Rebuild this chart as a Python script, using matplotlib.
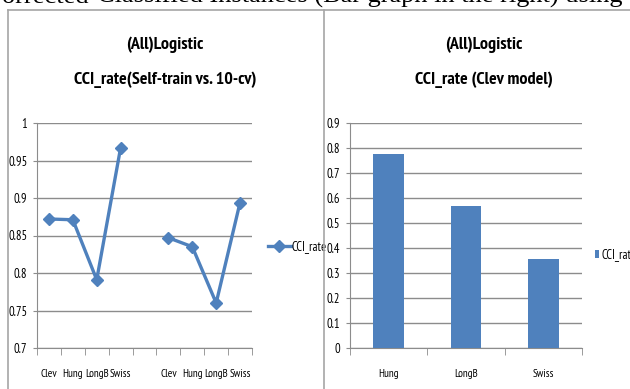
import numpy as np
import matplotlib
matplotlib.use('Agg')
import matplotlib.pyplot as plt
from matplotlib.lines import Line2D

plt.rcParams['font.family'] = ['PT Sans Narrow', 'DejaVu Sans']

# line chart: self-train group, blank slot, 10-cv group
line_labels = ['Clev', 'Hung', 'LongB', 'Swiss', '', 'Clev', 'Hung', 'LongB', 'Swiss']
line_values = [0.872, 0.871, 0.791, 0.967, np.nan, 0.847, 0.835, 0.760, 0.894]

# bar chart: Clev model tested on the other sets
bar_labels = ['Hung', 'LongB', 'Swiss']
bar_values = [0.775, 0.567, 0.357]

series_name = 'CCI_rate'
blue = '#4F81BD'
grid_gray = '#8C8C8C'
frame_gray = '#A6A6A6'


def main():
    fig = plt.figure(figsize=(6.3, 3.89), dpi=100)
    W, H = 630, 389

    def fx(px):
        return px / W

    def fy(py):
        return 1 - py / H

    # caption line cut off at the top of the page (justified text, wide gap)
    fig.text(fx(89), fy(3), 'orrected', family='Liberation Serif', fontsize=19,
             ha='right', va='baseline')
    fig.text(fx(97), fy(3), 'Classified Instances (Bar graph in the right) using',
             family='Liberation Serif', fontsize=19, ha='left', va='baseline')

    # frame around the two charts
    fig.add_artist(Line2D([fx(8), fx(640)], [fy(10), fy(10)], color=frame_gray, lw=1.2))
    fig.add_artist(Line2D([fx(8), fx(8)], [fy(10), fy(395)], color=frame_gray, lw=1.2))
    fig.add_artist(Line2D([fx(324), fx(324)], [fy(10), fy(395)], color=frame_gray, lw=1.2))

    # titles
    for cx, line2 in [(165, 'CCI_rate(Self-train vs. 10-cv)'), (484, 'CCI_rate (Clev model)')]:
        fig.text(fx(cx), fy(45), '(All)Logistic', fontsize=13, fontweight='bold',
                 ha='center', va='center')
        fig.text(fx(cx), fy(80), line2, fontsize=13, fontweight='bold',
                 ha='center', va='center')

    # left: line chart
    ax1 = fig.add_axes([fx(37), fy(348), fx(252 - 37), (348 - 123) / H])
    x1 = np.arange(len(line_labels))
    ax1.plot(x1, line_values, color=blue, lw=2.4, marker='D', markersize=6,
             label=series_name)
    ax1.set_xlim(-0.5, len(line_labels) - 0.5)
    ax1.set_ylim(0.7, 1.0)
    ax1.set_yticks(np.arange(0.7, 1.001, 0.05))
    ax1.set_yticklabels(['0.7', '0.75', '0.8', '0.85', '0.9', '0.95', '1'])
    ax1.set_xticks(x1)
    ax1.set_xticklabels(line_labels)
    ax1.set_xticks(np.arange(-0.5, len(line_labels)), minor=True)
    ax1.legend(loc='center left', bbox_to_anchor=(fx(263), fy(247)),
               bbox_transform=fig.transFigure, frameon=False, fontsize=9,
               handlelength=1.8, handletextpad=0.1, borderaxespad=0)

    # right: bar chart
    ax2 = fig.add_axes([fx(350), fy(348), fx(582 - 350), (348 - 123) / H])
    x2 = np.arange(len(bar_labels))
    ax2.bar(x2, bar_values, width=0.4, color=blue, label=series_name, zorder=3)
    ax2.set_xlim(-0.5, len(bar_labels) - 0.5)
    ax2.set_ylim(0, 0.9)
    ax2.set_yticks(np.arange(0, 0.901, 0.1))
    ax2.set_yticklabels(['0', '0.1', '0.2', '0.3', '0.4', '0.5', '0.6', '0.7', '0.8', '0.9'])
    ax2.set_xticks(x2)
    ax2.set_xticklabels(bar_labels)
    ax2.set_xticks(np.arange(-0.5, len(bar_labels)), minor=True)
    ax2.legend(loc='center left', bbox_to_anchor=(fx(590), fy(255)),
               bbox_transform=fig.transFigure, frameon=False, fontsize=9,
               handlelength=0.35, handleheight=0.6, handletextpad=0.2, borderaxespad=0)

    for ax in (ax1, ax2):
        ax.grid(axis='y', color=grid_gray, lw=1)
        ax.set_axisbelow(True)
        for side in ('top', 'right'):
            ax.spines[side].set_visible(False)
        for side in ('left', 'bottom'):
            ax.spines[side].set_color(grid_gray)
        ax.tick_params(axis='y', length=3, color=grid_gray, pad=4, labelsize=9)
        ax.tick_params(axis='x', which='major', length=0, pad=15, labelsize=8)
        ax.tick_params(axis='x', which='minor', length=5, color=grid_gray)

    fig.savefig('out.png', dpi=100)


if __name__ == '__main__':
    main()
